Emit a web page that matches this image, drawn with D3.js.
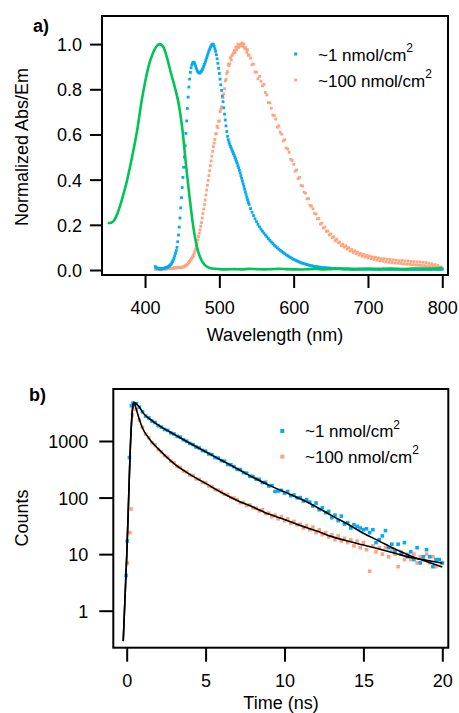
<!DOCTYPE html>
<html>
<head>
<meta charset="utf-8">
<script src="https://cdn.jsdelivr.net/npm/d3@7"></script>
<style>
  body { margin: 0; background: #fff; }
  svg text { font-family: "Liberation Sans", Arial, sans-serif; fill: #000; }
</style>
</head>
<body>
<div id="chart"></div>
<script>
// ---------- panel a: normalized absorption / emission ----------
const absWl = [350, 352, 355, 358, 361, 364, 367, 370, 375, 380, 385, 390, 395, 400, 405, 410, 415, 420,
  425, 430, 435, 440, 445, 450, 455, 460, 465, 470, 475, 480, 485, 490, 500, 510, 520, 530, 540, 550,
  560, 570, 580, 590, 600, 610, 620, 630, 640, 650, 660, 670, 680, 690, 700, 710, 720, 730, 740, 750,
  760, 770, 780, 790, 800];
const absVal = [0.21, 0.208, 0.21, 0.218, 0.235, 0.26, 0.29, 0.325, 0.385, 0.46, 0.54, 0.63, 0.74, 0.83,
  0.905, 0.955, 0.988, 1.0, 0.985, 0.935, 0.87, 0.81, 0.74, 0.63, 0.47, 0.32, 0.19, 0.1, 0.05, 0.024,
  0.012, 0.007, 0.004, 0.003, 0.004, 0.003, 0.005, 0.004, 0.003, 0.004, 0.005, 0.004, 0.003, 0.002,
  0.004, 0.005, 0.003, 0.004, 0.005, 0.004, 0.003, 0.004, 0.005, 0.004, 0.005, 0.006, 0.005, 0.004,
  0.006, 0.007, 0.006, 0.007, 0.009];

// emission spectra sampled at 1 nm (414-540) then 2 nm (542-800)
const emWl = d3.range(414, 541).concat(d3.range(542, 801, 2));

const emBlue = [
  0.015, 0.011, 0.009, 0.007, 0.006, 0.005, 0.005, 0.005, 0.005, 0.006,
  0.006, 0.007, 0.008, 0.009, 0.010, 0.011, 0.012, 0.014, 0.016, 0.019,
  0.022, 0.026, 0.031, 0.037, 0.044, 0.053, 0.063, 0.074, 0.086, 0.100,
  0.125, 0.155, 0.190, 0.230, 0.275, 0.320, 0.365, 0.410, 0.455, 0.500,
  0.550, 0.605, 0.660, 0.715, 0.765, 0.810, 0.845, 0.875, 0.895, 0.908,
  0.916, 0.920, 0.919, 0.913, 0.903, 0.893, 0.884, 0.878, 0.874, 0.872,
  0.873, 0.876, 0.881, 0.887, 0.894, 0.902, 0.911, 0.920, 0.930, 0.940,
  0.950, 0.960, 0.970, 0.978, 0.986, 0.993, 0.998, 1.000, 0.998, 0.990,
  0.980, 0.968, 0.953, 0.935, 0.915, 0.893, 0.870, 0.845, 0.820, 0.795,
  0.770, 0.745, 0.718, 0.690, 0.664, 0.638, 0.613, 0.592, 0.577, 0.566,
  0.556, 0.547, 0.539, 0.531, 0.523, 0.515, 0.507, 0.499, 0.490, 0.481,
  0.472, 0.462, 0.452, 0.441, 0.430, 0.418, 0.406, 0.394, 0.382, 0.370,
  0.358, 0.346, 0.334, 0.322, 0.311, 0.300, 0.290,
  0.272, 0.256, 0.241, 0.227, 0.214, 0.202, 0.191, 0.181, 0.172, 0.163,
  0.155, 0.147, 0.139, 0.131, 0.124, 0.117, 0.110, 0.104, 0.098, 0.092,
  0.087, 0.082, 0.077, 0.072, 0.067, 0.063, 0.059, 0.055, 0.051, 0.047,
  0.044, 0.041, 0.038, 0.035, 0.032, 0.030, 0.028, 0.026, 0.024, 0.022,
  0.020, 0.019, 0.017, 0.016, 0.015, 0.014, 0.013, 0.012, 0.011, 0.010,
  0.010, 0.009, 0.009, 0.008, 0.008, 0.007, 0.007, 0.007, 0.006, 0.006,
  0.006, 0.006, 0.005, 0.005, 0.005, 0.005, 0.005, 0.005, 0.004, 0.004,
  0.004, 0.004, 0.004, 0.004, 0.004, 0.004, 0.004, 0.004, 0.004, 0.004,
  0.004, 0.004, 0.004, 0.003, 0.004, 0.003, 0.004, 0.003, 0.003, 0.004,
  0.003, 0.003, 0.003, 0.003, 0.003, 0.003, 0.003, 0.003, 0.003, 0.003,
  0.003, 0.003, 0.003, 0.003, 0.003, 0.003, 0.003, 0.003, 0.003, 0.003,
  0.003, 0.003, 0.003, 0.003, 0.003, 0.003, 0.003, 0.003, 0.003, 0.003,
  0.003, 0.003, 0.003, 0.003, 0.003, 0.003, 0.003, 0.003, 0.003, 0.003
];

const emOrange = [
  0.004, 0.003, 0.003, 0.003, 0.004, 0.003, 0.004, 0.004, 0.004, 0.004,
  0.005, 0.004, 0.005, 0.005, 0.005, 0.005, 0.006, 0.006, 0.006, 0.006,
  0.007, 0.007, 0.007, 0.008, 0.008, 0.009, 0.009, 0.010, 0.010, 0.010,
  0.011, 0.011, 0.011, 0.011, 0.011, 0.012, 0.012, 0.013, 0.014, 0.016,
  0.018, 0.020, 0.022, 0.025, 0.029, 0.033, 0.038, 0.043, 0.048, 0.053,
  0.058, 0.063, 0.072, 0.082, 0.093, 0.105, 0.118, 0.133, 0.148, 0.163,
  0.178, 0.194, 0.210, 0.230, 0.250, 0.270, 0.290, 0.310, 0.332, 0.354,
  0.375, 0.397, 0.418, 0.440, 0.462, 0.483, 0.504, 0.525, 0.546, 0.562,
  0.578, 0.602, 0.604, 0.637, 0.630, 0.658, 0.660, 0.701, 0.711, 0.723,
  0.763, 0.763, 0.780, 0.803, 0.837, 0.844, 0.870, 0.878, 0.911, 0.905,
  0.913, 0.940, 0.930, 0.949, 0.955, 0.960, 0.972, 0.964, 0.987, 0.975,
  0.986, 0.999, 0.985, 0.997, 0.993, 1.002, 0.993, 1.005, 0.990, 1.000,
  0.981, 0.986, 0.978, 0.963, 0.975, 0.950, 0.952,
  0.938, 0.909, 0.912, 0.877, 0.876, 0.847, 0.857, 0.836, 0.815, 0.822,
  0.786, 0.775, 0.741, 0.740, 0.716, 0.686, 0.684, 0.668, 0.632, 0.638,
  0.610, 0.601, 0.571, 0.577, 0.540, 0.535, 0.521, 0.490, 0.485, 0.468,
  0.437, 0.443, 0.404, 0.410, 0.374, 0.372, 0.344, 0.340, 0.315, 0.316,
  0.286, 0.283, 0.271, 0.250, 0.248, 0.226, 0.228, 0.203, 0.207, 0.186,
  0.190, 0.171, 0.173, 0.155, 0.160, 0.143, 0.147, 0.130, 0.136, 0.120,
  0.124, 0.108, 0.114, 0.101, 0.107, 0.093, 0.099, 0.084, 0.091, 0.078,
  0.085, 0.072, 0.078, 0.066, 0.073, 0.061, 0.069, 0.057, 0.065, 0.054,
  0.062, 0.050, 0.058, 0.047, 0.056, 0.044, 0.053, 0.041, 0.050, 0.039,
  0.050, 0.036, 0.047, 0.034, 0.046, 0.033, 0.045, 0.031, 0.043, 0.030,
  0.041, 0.029, 0.042, 0.027, 0.040, 0.026, 0.040, 0.025, 0.038, 0.024,
  0.037, 0.022, 0.036, 0.021, 0.036, 0.020, 0.034, 0.019, 0.033, 0.018,
  0.030, 0.017, 0.027, 0.016, 0.024, 0.013, 0.020, 0.011, 0.014, 0.009
];

// ---------- panel b: fluorescence decays ----------
const decayT = d3.range(2, 101).map(i => i / 5); // 0.4 ... 20 ns, 0.2 ns bins
const decayBlue = [
  4700, 4550, 3950, 3300, 2750, 2560, 2250, 2120, 1870, 1760,
  1600, 1540, 1390, 1330, 1210, 1170, 1050, 990, 905, 865,
  780, 752, 680, 660, 590, 575, 510, 498, 450, 440,
  385, 380, 352, 315, 312, 276, 270, 238, 236, 212,
  210, 184, 186, 160, 163, 128, 131, 134, 120, 128,
  108, 111, 99, 100, 87, 92, 83, 71, 80, 61,
  66, 54, 57, 44, 49, 39, 47, 34, 36, 29,
  33, 31, 29, 27, 28, 24, 27, 16, 18, 21,
  26, 13, 15, 11, 15, 10, 16, 9, 11, 8,
  13, 7, 9, 12, 9, 6, 8, 8, 7
];
const decayOrange = [
  4300, 3600, 2350, 1750, 1320, 1150, 930, 850, 710, 645,
  550, 515, 440, 410, 355, 340, 295, 283, 250, 246,
  214, 210, 186, 182, 160, 156, 138, 136, 126, 114,
  113, 100, 98, 92, 81, 82, 72, 74, 66, 65,
  58, 61, 52, 53, 46, 49, 42, 46, 39, 42,
  35, 38, 33, 34, 29, 32, 27, 30, 24, 27,
  22, 24, 20, 22, 18, 21, 17, 19, 16, 18,
  14, 17, 13, 16, 12, 5, 14, 11, 13, 10,
  13, 9, 12, 10, 6, 11, 8, 10, 8, 10,
  7, 9, 8, 10, 7, 9, 6, 8, 7
];
const riseBlueT = [-0.04, 0.04, 0.17, 0.3];
const riseBlue = [4.2, 17, 510, 4200];
const riseOrangeT = [0.05, 0.2, 0.28, 0.36];
const riseOrange = [7, 24, 63, 2900];

const fitT = [-0.22, -0.1, 0, 0.1, 0.2, 0.3, 0.38, 0.46, 0.6, 0.8, 1, 1.5, 2, 2.5, 3, 4, 5, 6,
  7, 8, 9, 10, 11, 12, 13, 14, 15, 16, 17, 18, 19, 20];
const fitBlue = [0.29, 1.9, 9, 60, 450, 2000, 3900, 4800, 4580, 3980, 3240, 2400, 1905, 1570, 1318,
  912, 646, 457, 324, 229, 166, 126, 95, 69, 48, 34, 23.4, 17, 12.3, 9.3, 7.4, 5.9];
const fitOrange = [0.29, 1.9, 9, 60, 450, 2000, 3900, 4800, 3700, 2400, 1700, 1035, 724, 530, 398,
  257, 178, 123, 89, 68, 51, 41, 32, 26, 20.4, 17, 14.5, 12.3, 10.4, 8.7, 7.8, 6.9];

const legendLabels = ["~1 nmol/cm", "~100 nmol/cm"];
const ticksA_x = [400, 500, 600, 700, 800];
const ticksA_y = [0, 0.2, 0.4, 0.6, 0.8, 1.0];
const ticksB_x = [0, 5, 10, 15, 20];
const ticksB_y = [1, 10, 100, 1000];

const blue = "#04aaf6", orange = "#ffa47e", green = "#00c456";

const svg = d3.select("#chart").append("svg")
  .attr("width", 459)
  .attr("height", 713);

function styleAxis(g, bottom) {
  g.select(".domain").remove();
  g.attr("font-family", null).attr("font-size", null);
  g.selectAll(".tick line").attr("stroke", "#000").attr("stroke-width", 2);
  g.selectAll(".tick text").style("font-size", "18px");
  if (bottom) g.selectAll(".tick text").attr("dy", null).attr("y", 39);
  else g.selectAll(".tick text").attr("dy", "0.36em");
}

// ===== panel a =====
const xa = d3.scaleLinear().domain([342.1, 807.7]).range([102, 448]);
const ya = d3.scaleLinear().domain([-0.0221, 1.1244]).range([275, 16]);

svg.append("g")
  .attr("transform", "translate(0,275)")
  .call(d3.axisBottom(xa).tickValues(ticksA_x).tickSize(13).tickFormat(d3.format("d")))
  .call(g => styleAxis(g, true));

svg.append("g")
  .attr("transform", "translate(102,0)")
  .call(d3.axisLeft(ya).tickValues(ticksA_y).tickSize(12).tickPadding(8).tickFormat(d3.format(".1f")))
  .call(g => styleAxis(g, false));

// emission points
const specBlue = emWl.map((w, i) => ({ w, v: emBlue[i] }));
const specOrange = emWl.map((w, i) => ({ w, v: emOrange[i] }));

svg.append("g").selectAll("rect")
  .data(specOrange)
  .join("rect")
  .attr("x", d => xa(d.w) - 1.4)
  .attr("y", d => ya(d.v) - 1.4)
  .attr("width", 2.8)
  .attr("height", 2.8)
  .attr("fill", orange);

svg.append("g").selectAll("rect")
  .data(specBlue)
  .join("rect")
  .attr("x", d => xa(d.w) - 1.4)
  .attr("y", d => ya(d.v) - 1.4)
  .attr("width", 2.8)
  .attr("height", 2.8)
  .attr("fill", blue);

// absorption line
svg.append("path")
  .datum(absWl.map((w, i) => ({ w, v: absVal[i] })))
  .attr("fill", "none")
  .attr("stroke", green)
  .attr("stroke-width", 2.6)
  .attr("d", d3.line().x(d => xa(d.w)).y(d => ya(d.v)).curve(d3.curveMonotoneX));

svg.append("rect")
  .attr("x", 102).attr("y", 16)
  .attr("width", 346).attr("height", 259)
  .attr("fill", "none").attr("stroke", "#000").attr("stroke-width", 2);

// legend a
[blue, orange].forEach((c, i) => {
  svg.append("rect")
    .attr("x", 294.2).attr("y", 52.5 + i * 26)
    .attr("width", 3).attr("height", 3)
    .attr("fill", c);
  const t = svg.append("text")
    .attr("x", 318).attr("y", 60.7 + i * 26)
    .style("font-size", "17px")
    .text(legendLabels[i]);
  t.append("tspan").attr("dy", -8.5).style("font-size", "12px").text("2");
});

svg.append("text").attr("x", 33).attr("y", 32)
  .style("font-size", "18px").style("font-weight", "bold").text("a)");

svg.append("text").attr("x", 275).attr("y", 341)
  .style("text-anchor", "middle").style("font-size", "18px").text("Wavelength (nm)");

svg.append("text")
  .attr("transform", "translate(28,147) rotate(-90)")
  .style("text-anchor", "middle").style("font-size", "18px").text("Normalized Abs/Em");

// ===== panel b =====
const xb = d3.scaleLinear().domain([-0.849, 20.38]).range([113.3, 448.3]);
const yb = d3.scaleLog().domain([0.2218, 8300]).range([647.7, 389]);

svg.append("g")
  .attr("transform", "translate(0,647.7)")
  .call(d3.axisBottom(xb).tickValues(ticksB_x).tickSize(14).tickFormat(d3.format("d")))
  .call(g => styleAxis(g, true));

svg.append("g")
  .attr("transform", "translate(113.3,0)")
  .call(d3.axisLeft(yb).tickValues(ticksB_y).tickSize(14).tickPadding(11).tickFormat(d3.format("d")))
  .call(g => styleAxis(g, false));

const ptsOrange = riseOrangeT.map((t, i) => ({ t, c: riseOrange[i] }))
  .concat(decayT.map((t, i) => ({ t, c: decayOrange[i] })));
const ptsBlue = riseBlueT.map((t, i) => ({ t, c: riseBlue[i] }))
  .concat(decayT.map((t, i) => ({ t, c: decayBlue[i] })));

svg.append("g").selectAll("rect")
  .data(ptsOrange)
  .join("rect")
  .attr("x", d => xb(d.t) - 1.8)
  .attr("y", d => yb(d.c) - 1.8)
  .attr("width", 3.6)
  .attr("height", 3.6)
  .attr("fill", orange);

svg.append("g").selectAll("rect")
  .data(ptsBlue)
  .join("rect")
  .attr("x", d => xb(d.t) - 1.8)
  .attr("y", d => yb(d.c) - 1.8)
  .attr("width", 3.6)
  .attr("height", 3.6)
  .attr("fill", blue);

const fitLine = d3.line().x(d => xb(d.t)).y(d => yb(d.c)).curve(d3.curveMonotoneX);
[fitBlue, fitOrange].forEach(f => {
  svg.append("path")
    .datum(fitT.map((t, i) => ({ t, c: f[i] })))
    .attr("fill", "none")
    .attr("stroke", "#000")
    .attr("stroke-width", 1.6)
    .attr("d", fitLine);
});

svg.append("rect")
  .attr("x", 113.3).attr("y", 389)
  .attr("width", 335).attr("height", 258.7)
  .attr("fill", "none").attr("stroke", "#000").attr("stroke-width", 2);

// legend b
[blue, orange].forEach((c, i) => {
  svg.append("rect")
    .attr("x", 280.3).attr("y", 429 + i * 25.7)
    .attr("width", 4).attr("height", 4)
    .attr("fill", c);
  const t = svg.append("text")
    .attr("x", 305).attr("y", 437 + i * 25.7)
    .style("font-size", "17px")
    .text(legendLabels[i]);
  t.append("tspan").attr("dy", -8.5).style("font-size", "12px").text("2");
});

svg.append("text").attr("x", 29).attr("y", 401)
  .style("font-size", "18px").style("font-weight", "bold").text("b)");

svg.append("text").attr("x", 281).attr("y", 708.5)
  .style("text-anchor", "middle").style("font-size", "18px").text("Time (ns)");

svg.append("text")
  .attr("transform", "translate(28,518) rotate(-90)")
  .style("text-anchor", "middle").style("font-size", "18px").text("Counts");
</script>
</body>
</html>
